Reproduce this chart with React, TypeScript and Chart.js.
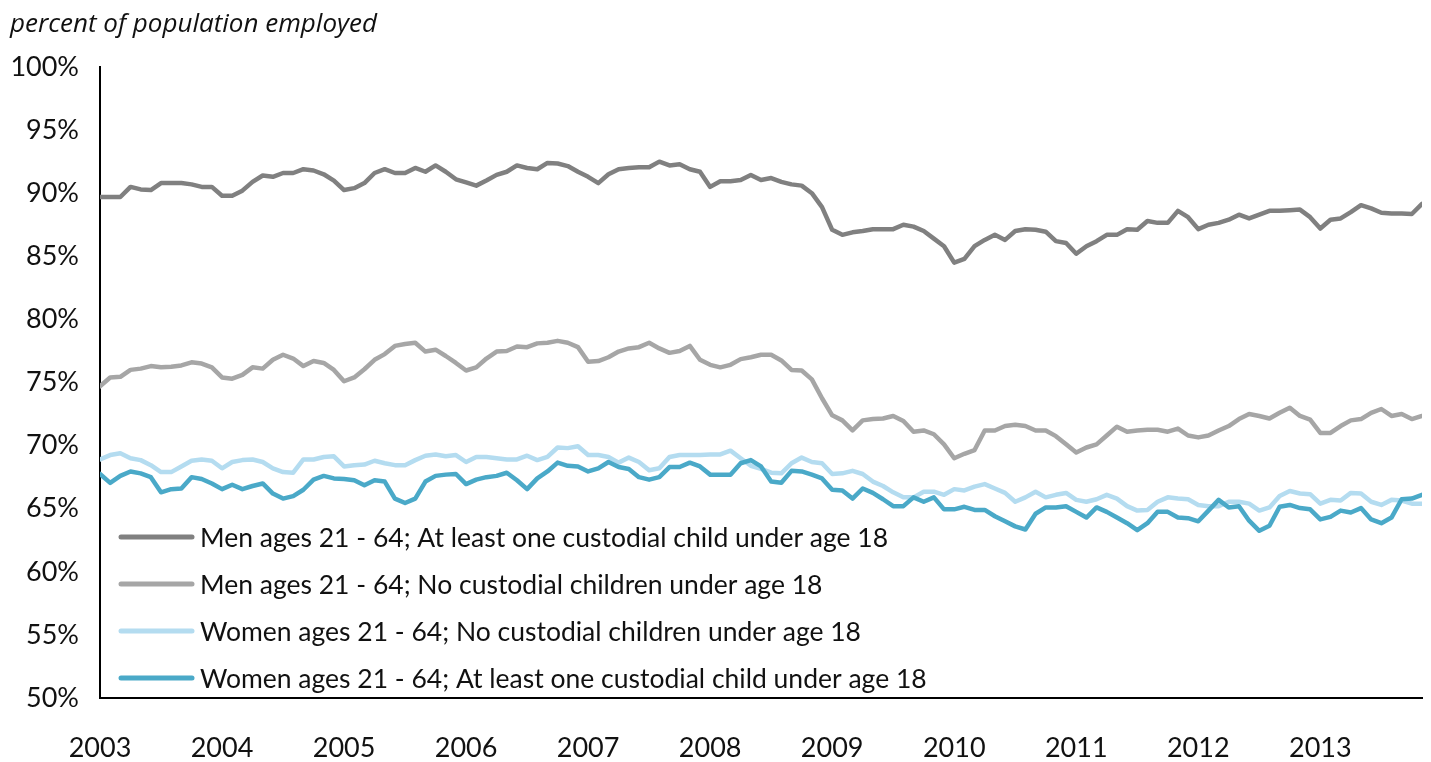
import React, { useEffect, useRef } from 'react';
import { Chart, registerables } from 'chart.js';

Chart.register(...registerables);

const START_YEAR = 2003;
const MONTHS_PER_YEAR = 12;

const seriesLabels = [
  'Men ages 21 - 64; At least one custodial child under age 18',
  'Men ages 21 - 64; No custodial children under age 18',
  'Women ages 21 - 64; No custodial children under age 18',
  'Women ages 21 - 64; At least one custodial child under age 18',
];

// monthly values, Jan 2003 .. Nov 2013
const menWithChild = [
  89.7, 89.7, 89.7, 90.5, 90.3, 90.25, 90.8, 90.8, 90.8, 90.7, 90.5, 90.5,
  89.8, 89.8, 90.2, 90.9, 91.4, 91.3, 91.6, 91.6, 91.9, 91.8, 91.5, 91.0,
  90.25, 90.4, 90.8, 91.6, 91.9, 91.6, 91.6, 92.0, 91.7, 92.2, 91.7, 91.1,
  90.85, 90.6, 91.0, 91.45, 91.7, 92.2, 92.0, 91.9, 92.4, 92.35, 92.15, 91.7,
  91.3, 90.8, 91.5, 91.9, 92.0, 92.05, 92.05, 92.5, 92.2, 92.3, 91.9, 91.7,
  90.5, 90.95, 90.95, 91.05, 91.45, 91.05, 91.2, 90.9, 90.7, 90.6, 90.0, 88.9,
  87.1, 86.7, 86.9, 87.0, 87.15, 87.15, 87.15, 87.5, 87.35, 87.0, 86.4, 85.8,
  84.5, 84.8, 85.8, 86.3, 86.7, 86.3, 87.0, 87.15, 87.1, 86.95, 86.2, 86.05,
  85.2, 85.8, 86.2, 86.7, 86.7, 87.15, 87.1, 87.8, 87.65, 87.65, 88.6, 88.1,
  87.15, 87.5, 87.65, 87.9, 88.3, 88.0, 88.3, 88.6, 88.6, 88.65, 88.7, 88.1,
  87.2, 87.9, 88.0, 88.5, 89.05, 88.8, 88.45, 88.4, 88.4, 88.35, 89.15,
];

const menNoChild = [
  74.7, 75.4, 75.45, 76.0, 76.1, 76.3, 76.2, 76.25, 76.35, 76.6, 76.5, 76.2,
  75.4, 75.3, 75.6, 76.2, 76.1, 76.8, 77.2, 76.9, 76.3, 76.7, 76.55, 76.0,
  75.1, 75.4, 76.05, 76.8, 77.25, 77.9, 78.05, 78.15, 77.45, 77.6, 77.1, 76.55,
  75.95, 76.2, 76.9, 77.45, 77.5, 77.85, 77.8, 78.1, 78.15, 78.3, 78.15, 77.8,
  76.65, 76.7, 77.0, 77.45, 77.7, 77.8, 78.15, 77.7, 77.35, 77.5, 77.9, 76.8,
  76.4, 76.2, 76.4, 76.85, 77.0, 77.2, 77.2, 76.75, 76.0, 75.95, 75.25, 73.75,
  72.4, 72.0, 71.2, 72.0, 72.1, 72.15, 72.35, 71.95, 71.1, 71.2, 70.9, 70.1,
  69.0, 69.35, 69.65, 71.2, 71.2, 71.55, 71.65, 71.55, 71.2, 71.2, 70.75, 70.1,
  69.45, 69.85, 70.1, 70.8, 71.5, 71.1, 71.2, 71.25, 71.25, 71.1, 71.35, 70.8,
  70.65, 70.8, 71.2, 71.55, 72.1, 72.5, 72.35, 72.15, 72.6, 73.0, 72.35, 72.05,
  71.0, 71.0, 71.55, 72.0, 72.1, 72.6, 72.9, 72.35, 72.5, 72.1, 72.35,
];

const womenNoChild = [
  68.9, 69.25, 69.4, 69.0, 68.85, 68.45, 67.9, 67.9, 68.35, 68.8, 68.9, 68.8,
  68.2, 68.7, 68.85, 68.9, 68.7, 68.2, 67.9, 67.85, 68.9, 68.9, 69.1, 69.15,
  68.35, 68.45, 68.5, 68.8, 68.6, 68.45, 68.45, 68.85, 69.2, 69.3, 69.15, 69.25,
  68.7, 69.1, 69.1, 69.0, 68.9, 68.9, 69.2, 68.85, 69.1, 69.85, 69.8, 69.95,
  69.25, 69.25, 69.1, 68.65, 69.05, 68.7, 68.05, 68.2, 69.1, 69.25, 69.25, 69.25,
  69.3, 69.3, 69.6, 69.0, 68.4, 68.15, 67.85, 67.8, 68.6, 69.05, 68.7, 68.6,
  67.75, 67.8, 68.0, 67.75, 67.15, 66.8, 66.3, 65.9, 65.9, 66.35, 66.35, 66.1,
  66.55, 66.45, 66.75, 66.95, 66.6, 66.25, 65.55, 65.9, 66.35, 65.9, 66.1, 66.25,
  65.7, 65.55, 65.75, 66.1, 65.8, 65.2, 64.85, 64.9, 65.55, 65.9, 65.8, 65.75,
  65.3, 65.2, 65.2, 65.55, 65.55, 65.4, 64.85, 65.1, 66.0, 66.4, 66.2, 66.15,
  65.4, 65.7, 65.65, 66.25, 66.2, 65.55, 65.3, 65.7, 65.65, 65.4, 65.4,
];

const womenWithChild = [
  67.75, 67.05, 67.6, 67.95, 67.8, 67.5, 66.3, 66.55, 66.6, 67.5, 67.35, 67.0,
  66.55, 66.9, 66.55, 66.8, 67.0, 66.2, 65.8, 66.0, 66.5, 67.3, 67.6, 67.4,
  67.35, 67.25, 66.85, 67.25, 67.15, 65.8, 65.45, 65.8, 67.15, 67.6, 67.7, 67.75,
  66.95, 67.3, 67.5, 67.6, 67.85, 67.25, 66.55, 67.4, 67.95, 68.65, 68.4, 68.35,
  67.95, 68.2, 68.7, 68.3, 68.15, 67.5, 67.3, 67.5, 68.3, 68.3, 68.65, 68.35,
  67.7, 67.7, 67.7, 68.6, 68.85, 68.35, 67.15, 67.05, 68.0, 67.95, 67.7, 67.4,
  66.5, 66.45, 65.8, 66.6, 66.25, 65.75, 65.2, 65.2, 65.9, 65.55, 65.9, 64.95,
  64.95, 65.15, 64.9, 64.9, 64.4, 64.0, 63.6, 63.35, 64.6, 65.1, 65.1, 65.2,
  64.75, 64.3, 65.1, 64.75, 64.3, 63.85, 63.3, 63.85, 64.75, 64.75, 64.3, 64.25,
  64.0, 64.85, 65.7, 65.1, 65.2, 64.05, 63.25, 63.65, 65.15, 65.3, 65.05, 64.95,
  64.15, 64.35, 64.85, 64.7, 65.05, 64.15, 63.85, 64.3, 65.75, 65.8, 66.1,
];

const seriesValues = [menWithChild, menNoChild, womenNoChild, womenWithChild];
const seriesColors = ['#808080', '#a6a6a6', '#b4dcf0', '#4aa9c8'];

const TITLE = 'percent of population employed';
const FONT = 'Lato, "Open Sans", sans-serif';
const TITLE_FONT = '"Open Sans", Lato, sans-serif';

const insideLegend = {
  id: 'insideLegend',
  afterDraw(chart: any) {
    const { ctx, chartArea } = chart;
    ctx.save();
    ctx.font = `26.5px ${FONT}`;
    ctx.textBaseline = 'middle';
    ctx.textAlign = 'left';
    chart.data.datasets.forEach((ds: any, i: number) => {
      const y = chartArea.top + 470 + i * 47;
      const x0 = chartArea.left + 21;
      ctx.strokeStyle = ds.borderColor;
      ctx.lineWidth = 5;
      ctx.lineCap = 'round';
      ctx.beginPath();
      ctx.moveTo(x0, y);
      ctx.lineTo(x0 + 71, y);
      ctx.stroke();
      ctx.fillStyle = '#111';
      ctx.fillText(ds.label, chartArea.left + 100, y + 1);
    });
    ctx.restore();
  },
};

export default function App() {
  const canvasRef = useRef<HTMLCanvasElement | null>(null);

  useEffect(() => {
    if (!canvasRef.current) return;
    const lastIndex = menWithChild.length - 1;
    const chart = new Chart(canvasRef.current, {
      type: 'line',
      data: {
        datasets: seriesLabels.map((label, i) => ({
          label,
          data: seriesValues[i].map((v, k) => ({ x: k, y: v })),
          borderColor: seriesColors[i],
          backgroundColor: seriesColors[i],
          borderWidth: 4.5,
          pointRadius: 0,
          tension: 0,
          borderJoinStyle: 'round' as const,
          borderCapStyle: 'round' as const,
          fill: false,
          order: 3 - i,
        })),
      },
      options: {
        animation: false,
        responsive: true,
        maintainAspectRatio: false,
        layout: { padding: { left: 10, right: 9, top: 0, bottom: 0 } },
        plugins: {
          legend: { display: false },
          tooltip: { enabled: false },
          title: {
            display: true,
            text: TITLE,
            align: 'start',
            color: '#111',
            font: { family: TITLE_FONT, size: 26, style: 'italic', weight: 'normal', lineHeight: 1.2 },
            padding: { top: 9, bottom: 26.8 },
          },
        },
        scales: {
          x: {
            type: 'linear',
            min: 0,
            max: lastIndex,
            grid: { display: true, drawOnChartArea: false, drawTicks: false },
            border: { display: true, color: '#000', width: 2 },
            afterBuildTicks: (scale: any) => {
              scale.ticks = scale.ticks.filter((t: any) => t.value % MONTHS_PER_YEAR === 0);
            },
            ticks: {
              stepSize: MONTHS_PER_YEAR,
              autoSkip: false,
              maxRotation: 0,
              minRotation: 0,
              padding: 34,
              color: '#111',
              font: { family: FONT, size: 27 },
              callback: (v: any) => String(START_YEAR + Math.round(Number(v) / MONTHS_PER_YEAR)),
            },
            afterFit: (scale: any) => { scale.height = 64; },
          },
          y: {
            min: 50,
            max: 100,
            grid: { display: true, drawOnChartArea: false, drawTicks: false },
            border: { display: true, color: '#000', width: 2 },
            ticks: {
              stepSize: 5,
              padding: 21,
              color: '#111',
              font: { family: FONT, size: 27 },
              callback: (v: any) => `${v}%`,
            },
            afterFit: (scale: any) => { scale.width = 90; },
          },
        },
      },
      plugins: [insideLegend],
    });
    return () => chart.destroy();
  }, []);

  return (
    <div style={{ position: 'fixed', left: 0, top: 0, width: 1431, height: 762, background: '#fff' }}>
      <canvas ref={canvasRef} />
    </div>
  );
}
